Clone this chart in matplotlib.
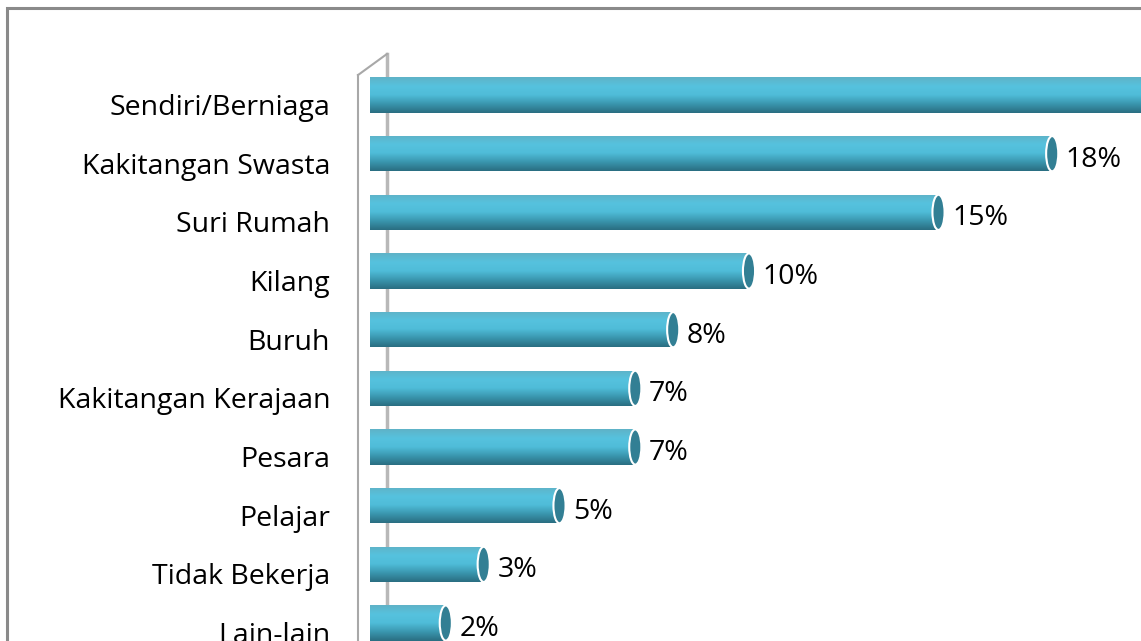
import numpy as np
import matplotlib
matplotlib.use('Agg')
import matplotlib.pyplot as plt
from matplotlib.colors import LinearSegmentedColormap
from matplotlib.patches import Ellipse, Rectangle

categories = ['Sendiri/Berniaga', 'Kakitangan Swasta', 'Suri Rumah', 'Kilang', 'Buruh',
              'Kakitangan Kerajaan', 'Pesara', 'Pelajar', 'Tidak Bekerja', 'Lain-lain']
values = [25, 18, 15, 10, 8, 7, 7, 5, 3, 2]
value_labels = ['25%', '18%', '15%', '10%', '8%', '7%', '7%', '5%', '3%', '2%']

plt.rcParams['font.family'] = ['Open Sans', 'DejaVu Sans']

W, H = 1141, 641
fig = plt.figure(figsize=(W / 100, H / 100), dpi=100)
ax = fig.add_axes([370 / W, 0, 1 - 370 / W, 1])
ax.set_axis_off()

# cylinder shading, top -> bottom
cyl = LinearSegmentedColormap.from_list('cyl', ['#5fb3c8', '#56c2de', '#4fbcd8', '#3a96ae', '#2a6e82'])
grad = np.linspace(0, 1, 64).reshape(-1, 1)

bh = 0.6
for i, v in enumerate(values):
    rect = ax.barh(i, v, height=bh, color='#4ab5d1', linewidth=0, zorder=2)[0]
    im = ax.imshow(grad, extent=[0, v, i + bh / 2, i - bh / 2], aspect='auto',
                   cmap=cyl, zorder=3, interpolation='bilinear')
    im.set_clip_path(rect)
    cap = Ellipse((v, i), width=0.32, height=bh, facecolor='#327f94',
                  edgecolor='white', linewidth=1.5, zorder=4)
    ax.add_patch(cap)
    ax.text(v + 0.36, i + 0.1, value_labels[i], ha='left', va='center',
            fontsize=20.5, color='black', zorder=5)
    ax.text(-1.05, i + 0.22, categories[i], ha='right', va='center',
            fontsize=20.5, color='black', clip_on=False)

px = 37.9  # pixels per percent
ax.set_xlim(0, (W - 370) / px)
ax.set_ylim((H - 95) / 58.67, -95 / 58.67)
ax.set_aspect('auto')

# 3d wall of the axis
ax.plot([17 / px, 17 / px], [-0.70, 10], color='#b8b8b8', lw=2.5, zorder=1)
ax.plot([-12 / px, -12 / px], [-0.34, 10], color='#a8a8a8', lw=1.5, zorder=1, clip_on=False)
ax.plot([-12 / px, 17 / px], [-0.34, -0.70], color='#a8a8a8', lw=1.5, zorder=1, clip_on=False)

# outer chart frame (cropped)
fig.patches.append(Rectangle((7 / W, -0.1), 1.2, (H - 8) / H + 0.1, transform=fig.transFigure,
                             fill=False, edgecolor='#8a8a8a', linewidth=2.2))

fig.savefig('out.png', dpi=100)
